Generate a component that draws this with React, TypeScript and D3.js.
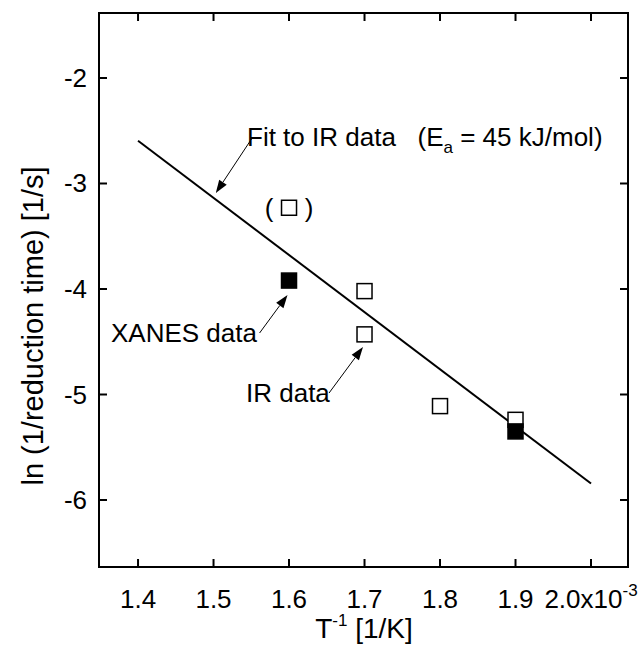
import React from "react";
import * as d3 from "d3";

const xTicks = [1.4, 1.5, 1.6, 1.7, 1.8, 1.9, 2.0];
const xTickLabels = ["1.4", "1.5", "1.6", "1.7", "1.8", "1.9", "2.0x10"];
const yTicks = [-2, -3, -4, -5, -6];
const yTickLabels = ["-2", "-3", "-4", "-5", "-6"];

// IR data (open squares)
const irX = [1.7, 1.7, 1.8, 1.9];
const irY = [-4.02, -4.43, -5.11, -5.24];
// excluded IR point shown in parentheses
const irExclX = [1.6];
const irExclY = [-3.23];
// XANES data (filled squares)
const xanesX = [1.6, 1.9];
const xanesY = [-3.92, -5.35];
// Fit line endpoints
const fitX = [1.4, 2.0];
const fitY = [-2.595, -5.843];

const W = 641;
const H = 645;
const left = 99, right = 628, top = 13, bottom = 567;

export default function App() {
  const x = d3.scaleLinear().domain([1.3483, 2.049]).range([left, right]);
  const y = d3.scaleLinear().domain([-1.384, -6.635]).range([top, bottom]);
  const font = "'Liberation Sans', Arial, Helvetica, sans-serif";
  const line = d3.line<number>().x((_, i) => x(fitX[i])).y((_, i) => y(fitY[i]));
  const sq = 15;
  const tickLen = 8;
  const tickFs = 26;
  const annFs = 26;
  const titleFs = 28;

  const arrow = (x1: number, y1: number, x2: number, y2: number, key: string) => {
    const px1 = x(x1), py1 = y(y1), px2 = x(x2), py2 = y(y2);
    const ang = Math.atan2(py2 - py1, px2 - px1);
    const L = 13, Wd = 4.5;
    const bx = px2 - L * Math.cos(ang), by = py2 - L * Math.sin(ang);
    const p1 = [bx + Wd * Math.sin(ang), by - Wd * Math.cos(ang)];
    const p2 = [bx - Wd * Math.sin(ang), by + Wd * Math.cos(ang)];
    return (
      <g key={key}>
        <line x1={px1} y1={py1} x2={bx} y2={by} stroke="#000" strokeWidth={1} />
        <path d={`M${px2},${py2}L${p1[0]},${p1[1]}L${p2[0]},${p2[1]}Z`} fill="#000" />
      </g>
    );
  };

  return (
    <svg width={W} height={H} style={{ position: "absolute", left: 0, top: 0 }} fontFamily={font}>
      <rect x={0} y={0} width={W} height={H} fill="#fff" />
      {/* frame */}
      <rect x={left} y={top} width={right - left} height={bottom - top} fill="none" stroke="#000" strokeWidth={2} />
      {/* x ticks */}
      {xTicks.map((t, i) => (
        <g key={"xt" + i}>
          <line x1={x(t)} x2={x(t)} y1={bottom} y2={bottom - tickLen} stroke="#000" strokeWidth={2} />
          <line x1={x(t)} x2={x(t)} y1={top} y2={top + tickLen} stroke="#000" strokeWidth={2} />
        </g>
      ))}
      {xTicks.map((t, i) =>
        i === xTicks.length - 1 ? (
          <text key={"xl" + i} x={x(t)} y={608} fontSize={tickFs} textAnchor="middle">
            {xTickLabels[i]}
            <tspan dy={-12} fontSize={17}>-3</tspan>
          </text>
        ) : (
          <text key={"xl" + i} x={x(t)} y={608} fontSize={tickFs} textAnchor="middle">
            {xTickLabels[i]}
          </text>
        )
      )}
      {/* y ticks */}
      {yTicks.map((t, i) => (
        <g key={"yt" + i}>
          <line x1={left} x2={left + tickLen} y1={y(t)} y2={y(t)} stroke="#000" strokeWidth={2} />
          <line x1={right} x2={right - tickLen} y1={y(t)} y2={y(t)} stroke="#000" strokeWidth={2} />
          <text x={87} y={y(t) + 9} fontSize={tickFs} textAnchor="end">
            {yTickLabels[i]}
          </text>
        </g>
      ))}
      {/* axis titles */}
      <text x={364} y={638} fontSize={titleFs} textAnchor="middle">
        T<tspan dy={-12} fontSize={17}>-1</tspan>
        <tspan dy={12}>{"\u00a0[1/K]"}</tspan>
      </text>
      <text transform={`translate(43,326) rotate(-90)`} fontSize={29} textAnchor="middle">
        ln (1/reduction time) [1/s]
      </text>
      {/* fit line */}
      <path d={line([0, 1]) || ""} fill="none" stroke="#000" strokeWidth={2} />
      {/* IR squares */}
      {irX.map((v, i) => (
        <rect key={"ir" + i} x={x(v) - sq / 2} y={y(irY[i]) - sq / 2} width={sq} height={sq} fill="#fff" stroke="#000" strokeWidth={1.5} />
      ))}
      {irExclX.map((v, i) => (
        <g key={"ex" + i}>
          <rect x={x(v) - sq / 2} y={y(irExclY[i]) - sq / 2} width={sq} height={sq} fill="#fff" stroke="#000" strokeWidth={1.5} />
          <text x={x(v) - 20} y={y(irExclY[i]) + 9} fontSize={annFs} textAnchor="middle">(</text>
          <text x={x(v) + 20} y={y(irExclY[i]) + 9} fontSize={annFs} textAnchor="middle">)</text>
        </g>
      ))}
      {/* XANES squares */}
      {xanesX.map((v, i) => (
        <rect key={"xa" + i} x={x(v) - sq / 2} y={y(xanesY[i]) - sq / 2} width={sq} height={sq} fill="#000" stroke="#000" strokeWidth={1.5} />
      ))}
      {/* annotations */}
      <text x={247} y={146} fontSize={annFs}>
        {"Fit to IR data\u00a0\u00a0\u00a0(E"}
        <tspan dy={7} fontSize={17}>a</tspan>
        <tspan dy={-7}>{"\u00a0= 45 kJ/mol)"}</tspan>
      </text>
      {arrow(1.552, -2.56, 1.503, -3.09, "a1")}
      <text x={111} y={342} fontSize={annFs}>XANES data</text>
      {arrow(1.561, -4.417, 1.598, -4.057, "a2")}
      <text x={246} y={402} fontSize={annFs}>IR data</text>
      {arrow(1.653, -4.986, 1.698, -4.55, "a3")}
    </svg>
  );
}
